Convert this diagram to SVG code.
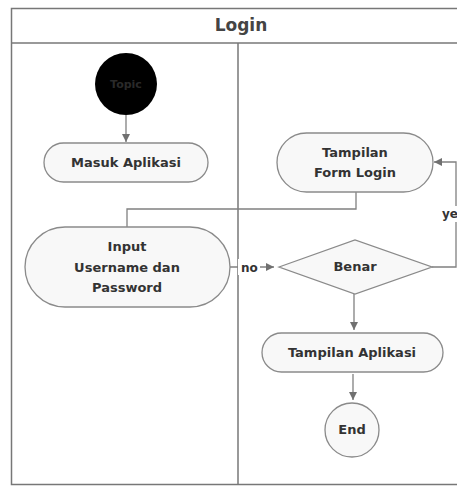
<svg xmlns="http://www.w3.org/2000/svg" width="457" height="490" viewBox="0 0 457 490">
<style>
.frame{fill:none;stroke:#777;stroke-width:1.5}
.node{fill:#f8f8f8;stroke:#8a8a8a;stroke-width:1.3}
.t{font-family:"DejaVu Sans",Verdana,sans-serif;font-weight:bold;font-size:13px;fill:#333;text-anchor:middle}
.edge{fill:none;stroke:#808080;stroke-width:1.3}
.lbl{font-family:"DejaVu Sans",Verdana,sans-serif;font-weight:bold;font-size:12px;fill:#333}
</style>
<defs>
<marker id="arr" viewBox="0 0 10 10" refX="10" refY="5" markerWidth="8" markerHeight="8" markerUnits="userSpaceOnUse" orient="auto">
<path d="M0,0 L10,5 L0,10 z" fill="#707070"/>
</marker>
</defs>
<rect width="457" height="490" fill="#fff"/>
<g id="frame">
<rect class="frame" x="11.5" y="8.5" width="470" height="476"/>
<line class="frame" x1="11.5" y1="43" x2="457" y2="43"/>
<line class="frame" x1="238" y1="43" x2="238" y2="484.5"/>
<text x="241" y="31" style="font-family:'DejaVu Sans',Verdana,sans-serif;font-weight:bold;font-size:17px;fill:#444;text-anchor:middle">Login</text>
</g>
<g id="connectors">
<line class="edge" x1="126" y1="115" x2="126" y2="142" marker-end="url(#arr)"/>
<polyline class="edge" points="356,192 356,209 127,209 127,227"/>
<line class="edge" x1="230" y1="267" x2="274" y2="267" marker-end="url(#arr)"/>
<rect x="238" y="259" width="22" height="16" fill="#fff"/>
<text class="lbl" x="241" y="271.5">no</text>
<polyline class="edge" points="432,267 456,267 456,162 434,162" marker-end="url(#arr)"/>
<rect x="441" y="206" width="16" height="16" fill="#fff"/>
<text class="lbl" x="442" y="218">ye</text>
<line class="edge" x1="354" y1="294" x2="354" y2="330" marker-end="url(#arr)"/>
<line class="edge" x1="353" y1="374" x2="353" y2="400" marker-end="url(#arr)"/>
</g>
<g id="start">
<circle cx="126" cy="84" r="31" fill="#000"/>
<text x="126" y="88" style="font-family:'DejaVu Sans',Verdana,sans-serif;font-weight:bold;font-size:11px;fill:#2a2a2a;text-anchor:middle">Topic</text>
</g>
<g id="masuk-aplikasi">
<rect class="node" x="44" y="143" width="164" height="39" rx="19.5"/>
<text class="t" x="126" y="167">Masuk Aplikasi</text>
</g>
<g id="input-username">
<rect class="node" x="25" y="227" width="205" height="80" rx="40"/>
<text class="t" x="127" y="251">Input</text>
<text class="t" x="127" y="272">Username dan</text>
<text class="t" x="127" y="292">Password</text>
</g>
<g id="tampilan-form-login">
<rect class="node" x="277" y="133" width="156" height="59" rx="29.5"/>
<text class="t" x="355" y="157">Tampilan</text>
<text class="t" x="355" y="177">Form Login</text>
</g>
<g id="benar">
<polygon class="node" points="279,267 355,240 432,267 355,294"/>
<text class="t" x="355" y="271">Benar</text>
</g>
<g id="tampilan-aplikasi">
<rect class="node" x="262" y="333" width="181" height="39" rx="19.5"/>
<text class="t" x="352" y="357">Tampilan Aplikasi</text>
</g>
<g id="end">
<circle class="node" cx="352" cy="430" r="27"/>
<text class="t" x="352" y="434">End</text>
</g>
</svg>
